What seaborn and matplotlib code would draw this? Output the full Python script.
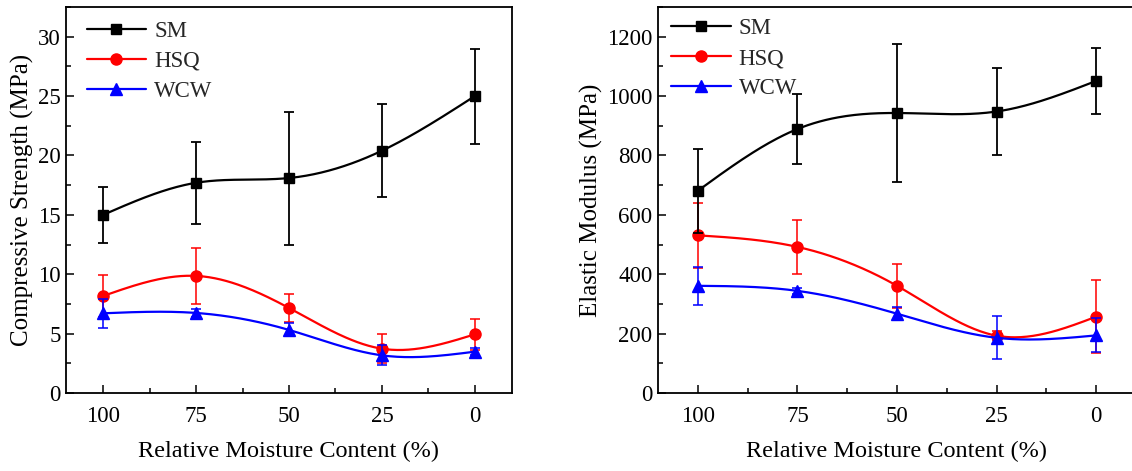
import numpy as np
import matplotlib
matplotlib.use("Agg")
import matplotlib.pyplot as plt
from matplotlib.lines import Line2D
from matplotlib.ticker import MultipleLocator
import seaborn as sns

# ---------------- data ----------------
moisture = [100, 75, 50, 25, 0]
series_names = ["SM", "HSQ", "WCW"]

cs_SM = [15.0, 17.7, 18.1, 20.4, 25.0]
cs_SM_err = [2.35, 3.45, 5.6, 3.9, 4.0]
cs_HSQ = [8.17, 9.86, 7.16, 3.73, 4.94]
cs_HSQ_err = [1.8, 2.35, 1.15, 1.2, 1.3]
cs_WCW = [6.71, 6.74, 5.31, 3.17, 3.48]
cs_WCW_err = [1.2, 0.3, 0.55, 0.85, 0.3]

em_SM = [681, 889, 943, 948, 1051]
em_SM_err = [142, 118, 233, 148, 112]
em_HSQ = [531, 492, 361, 193, 257]
em_HSQ_err = [110, 92, 75, 15, 122]
em_WCW = [361, 344, 267, 186, 194]
em_WCW_err = [64, 10, 22, 73, 57]

colors = {"SM": "#000000", "HSQ": "#ff0000", "WCW": "#0000ff"}
markers = {"SM": "s", "HSQ": "o", "WCW": "^"}


def natural_spline(x, y, n=200):
    x = np.asarray(x, float)
    y = np.asarray(y, float)
    k = len(x)
    h = np.diff(x)
    A = np.zeros((k, k))
    b = np.zeros(k)
    A[0, 0] = A[-1, -1] = 1
    for i in range(1, k - 1):
        A[i, i - 1] = h[i - 1]
        A[i, i] = 2 * (h[i - 1] + h[i])
        A[i, i + 1] = h[i]
        b[i] = 6 * ((y[i + 1] - y[i]) / h[i] - (y[i] - y[i - 1]) / h[i - 1])
    M = np.linalg.solve(A, b)
    xs, ys = [], []
    for i in range(k - 1):
        t = np.linspace(x[i], x[i + 1], n // (k - 1))
        a = (x[i + 1] - t) / h[i]
        c = (t - x[i]) / h[i]
        s = (a * y[i] + c * y[i + 1]
             + ((a ** 3 - a) * M[i] + (c ** 3 - c) * M[i + 1]) * h[i] ** 2 / 6)
        xs.append(t)
        ys.append(s)
    return np.concatenate(xs), np.concatenate(ys)


sns.set_theme(style="white")
plt.rcParams["font.family"] = ["Liberation Serif", "DejaVu Serif"]
plt.rcParams["mathtext.fontset"] = "stix"

fig = plt.figure(figsize=(11.32, 4.71), dpi=100)
ax1 = fig.add_axes([66 / 1132, 1 - 393 / 471, (512 - 66) / 1132, 386 / 471])
ax2 = fig.add_axes([658 / 1132, 1 - 393 / 471, (1136 - 658) / 1132, 386 / 471])

panels = [
    (ax1, {"SM": (cs_SM, cs_SM_err), "HSQ": (cs_HSQ, cs_HSQ_err), "WCW": (cs_WCW, cs_WCW_err)},
     "Compressive Strength (MPa)", 32.5, 5, 2.5, (0.01, 1.005)),
    (ax2, {"SM": (em_SM, em_SM_err), "HSQ": (em_HSQ, em_HSQ_err), "WCW": (em_WCW, em_WCW_err)},
     "Elastic Modulus (MPa)", 1300, 200, 100, (-0.006, 1.012)),
]

zorders = {"SM": 5, "HSQ": 3, "WCW": 4}

for ax, data, ylabel, ytop, ymaj, ymin, lpos in panels:
    for name in series_names:
        vals, errs = data[name]
        c = colors[name]
        idx = np.arange(len(moisture))
        ti, yi = natural_spline(idx, vals)
        xi = np.interp(ti, idx, moisture)
        sns.lineplot(x=xi, y=yi, ax=ax, color=c, lw=1.6, sort=False,
                     estimator=None, zorder=zorders[name])
        ax.errorbar(moisture, vals, yerr=errs, fmt="none", ecolor=c,
                    elinewidth=1.3, capsize=3.5, capthick=1.3,
                    alpha=1.0 if name == "SM" else 0.85, zorder=zorders[name])
        ax.plot(moisture, vals, ls="none", marker=markers[name], color=c,
                ms=8 if name != "SM" else 7.5, zorder=zorders[name] + 0.5)

    ax.set_xlim(110, -10)
    ax.set_ylim(0, ytop)
    ax.set_xticks(moisture)
    ax.set_xticklabels([str(m) for m in moisture])
    ax.xaxis.set_minor_locator(MultipleLocator(12.5))
    ax.yaxis.set_major_locator(MultipleLocator(ymaj))
    ax.yaxis.set_minor_locator(MultipleLocator(ymin))
    ax.tick_params(which="both", direction="in", top=False, right=False,
                   bottom=True, left=True, colors="black", labelsize=16.5, width=1.1)
    ax.tick_params(which="major", length=6, pad=9)
    ax.tick_params(which="minor", length=3.5)
    ax.tick_params(axis="y", which="major", pad=4)
    for sp in ax.spines.values():
        sp.set_color("black")
        sp.set_linewidth(1.3)
    ax.set_xlabel("Relative Moisture Content (%)", fontsize=17.5, labelpad=10, color="black")
    ax.set_ylabel(ylabel, fontsize=18, labelpad=3, color="black")

    handles = [Line2D([0], [0], color=colors[n], marker=markers[n], lw=1.6,
                      ms=8 if n != "SM" else 7.5) for n in series_names]
    ax.legend(handles, series_names, loc="upper left", frameon=False,
              fontsize=16.5, handlelength=2.6, handletextpad=0.35,
              labelspacing=0.38, borderaxespad=0.3, bbox_to_anchor=lpos)

fig.savefig("out.png", dpi=100)
